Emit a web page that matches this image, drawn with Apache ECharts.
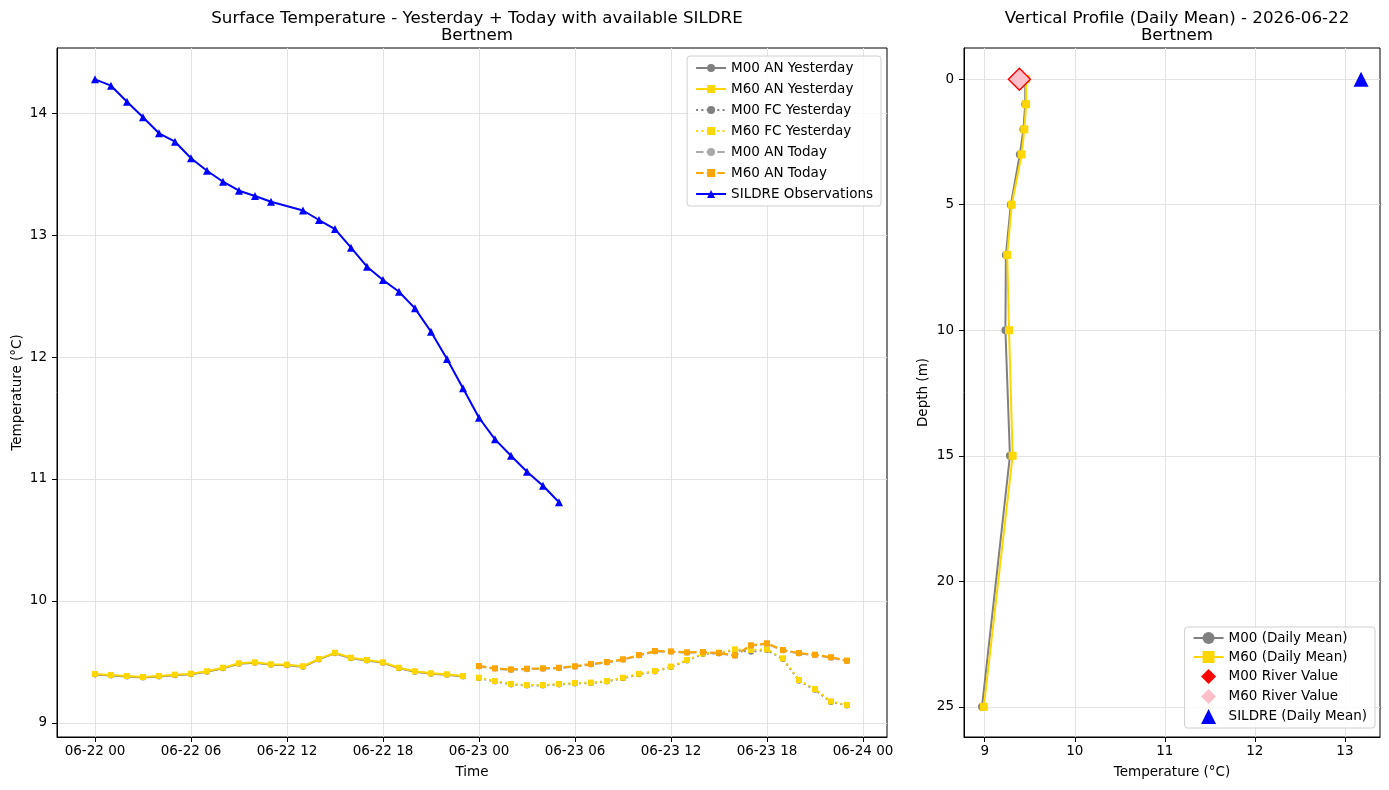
<!DOCTYPE html>
<html>
<head>
<meta charset="utf-8">
<script src="https://cdn.jsdelivr.net/npm/echarts@6/dist/echarts.min.js"></script>
<style>
  html, body { margin: 0; padding: 0; background: #fff; }
  #chart { width: 1389px; height: 790px; }
</style>
</head>
<body>
<div id="chart"></div>
<script>
// hours counted from 06-22 00
var timeTicks = [0, 6, 12, 18, 24, 30, 36, 42, 48];
var timeTickLabels = ['06-22 00', '06-22 06', '06-22 12', '06-22 18', '06-23 00', '06-23 06', '06-23 12', '06-23 18', '06-24 00'];

var yesterdayHours = [0, 1, 2, 3, 4, 5, 6, 7, 8, 9, 10, 11, 12, 13, 14, 15, 16, 17, 18, 19, 20, 21, 22, 23];
var todayHours = [24, 25, 26, 27, 28, 29, 30, 31, 32, 33, 34, 35, 36, 37, 38, 39, 40, 41, 42, 43, 44, 45, 46, 47];

var m00AnYesterday = [9.398, 9.390, 9.381, 9.373, 9.381, 9.392, 9.400, 9.420, 9.449, 9.485, 9.493, 9.477, 9.474, 9.461, 9.521, 9.572, 9.531, 9.512, 9.493, 9.449, 9.420, 9.403, 9.395, 9.381];
var m60AnYesterday = [9.402, 9.393, 9.385, 9.377, 9.385, 9.396, 9.404, 9.424, 9.453, 9.489, 9.497, 9.481, 9.478, 9.465, 9.525, 9.576, 9.535, 9.516, 9.497, 9.453, 9.424, 9.407, 9.399, 9.385];

var m00FcYesterday = [9.368, 9.340, 9.316, 9.307, 9.307, 9.316, 9.324, 9.327, 9.340, 9.367, 9.399, 9.422, 9.458, 9.512, 9.566, 9.572, 9.598, 9.584, 9.598, 9.524, 9.346, 9.272, 9.172, 9.144];
var m60FcYesterday = [9.371, 9.344, 9.320, 9.311, 9.311, 9.320, 9.328, 9.331, 9.344, 9.371, 9.403, 9.426, 9.462, 9.516, 9.570, 9.576, 9.604, 9.598, 9.604, 9.530, 9.352, 9.278, 9.177, 9.148];

var m00AnToday = [9.463, 9.444, 9.435, 9.441, 9.444, 9.449, 9.461, 9.480, 9.496, 9.518, 9.553, 9.586, 9.583, 9.575, 9.578, 9.570, 9.551, 9.633, 9.649, 9.594, 9.570, 9.556, 9.535, 9.507];
var m60AnToday = [9.467, 9.448, 9.439, 9.445, 9.448, 9.453, 9.465, 9.484, 9.500, 9.522, 9.557, 9.590, 9.587, 9.579, 9.582, 9.574, 9.555, 9.637, 9.653, 9.598, 9.574, 9.560, 9.539, 9.511];

var sildreHours = [0, 1, 2, 3, 4, 5, 6, 7, 8, 9, 10, 11, 13, 14, 15, 16, 17, 18, 19, 20, 21, 22, 23, 24, 25, 26, 27, 28, 29];
var sildreTemp = [14.276, 14.224, 14.093, 13.965, 13.834, 13.765, 13.629, 13.527, 13.437, 13.363, 13.320, 13.273, 13.201, 13.123, 13.049, 12.896, 12.740, 12.631, 12.535, 12.399, 12.207, 11.984, 11.743, 11.502, 11.325, 11.191, 11.060, 10.945, 10.809];

// vertical profile
var depths = [0, 1, 2, 3, 5, 7, 10, 15, 25];
var m00Profile = [9.45, 9.45, 9.43, 9.39, 9.29, 9.235, 9.23, 9.28, 8.97];
var m60Profile = [9.46, 9.46, 9.44, 9.41, 9.30, 9.25, 9.27, 9.31, 8.99];
var m00River = 9.385;
var m60River = 9.385;
var sildreMean = 13.18;

var tempTicks = [9, 10, 11, 12, 13, 14];
var depthTicks = [0, 5, 10, 15, 20, 25];
var profTempTicks = [9, 10, 11, 12, 13];

function zip(xs, ys) {
    return xs.map(function (x, i) { return [x, ys[i]]; });
}

var font = 'DejaVu Sans';
var labelStyle = { color: '#000', fontSize: 13.5, fontFamily: font };
var splitStyle = { show: true, lineStyle: { color: '#e3e3e3', width: 1 } };
var tickStyle = { show: true, length: 5, lineStyle: { color: '#000' } };
var axisLineStyle = { show: true, onZero: false, lineStyle: { color: '#000' } };

var diamondPath = 'path://M0,-1L1,0L0,1L-1,0Z';
var trianglePath = 'path://M0,-1L1,1L-1,1Z';

var chart = echarts.init(document.getElementById('chart'));

function lineSeries(name, data, color, symbol, dash, z) {
    return {
        name: name,
        type: 'line',
        xAxisIndex: 0,
        yAxisIndex: 0,
        data: data,
        symbol: symbol,
        symbolSize: symbol === 'triangle' ? 8 : 6,
        showAllSymbol: true,
        z: z,
        itemStyle: { color: color },
        lineStyle: { color: color, width: 2, type: dash }
    };
}

var option = {
    animation: false,
    backgroundColor: '#fff',
    textStyle: { fontFamily: font },
    title: [
        {
            text: 'Surface Temperature - Yesterday + Today with available SILDRE\nBertnem',
            left: 472,
            top: 5,
            textAlign: 'center',
            textStyle: { fontSize: 16.7, fontWeight: 'normal', color: '#000', fontFamily: font, lineHeight: 17 }
        },
        {
            text: 'Vertical Profile (Daily Mean) - 2026-06-22\nBertnem',
            left: 1172,
            top: 5,
            textAlign: 'center',
            textStyle: { fontSize: 16.7, fontWeight: 'normal', color: '#000', fontFamily: font, lineHeight: 17 }
        }
    ],
    legend: [
        {
            orient: 'vertical',
            right: 508,
            top: 56,
            itemWidth: 30,
            itemHeight: 10,
            itemGap: 7,
            padding: [5, 8],
            borderColor: '#d0d0d0',
            borderWidth: 1,
            borderRadius: 3,
            backgroundColor: 'rgba(255,255,255,0.8)',
            textStyle: labelStyle,
            lineStyle: { width: 2 },
            data: ['M00 AN Yesterday', 'M60 AN Yesterday', 'M00 FC Yesterday', 'M60 FC Yesterday', 'M00 AN Today', 'M60 AN Today', 'SILDRE Observations']
        },
        {
            orient: 'vertical',
            right: 14,
            bottom: 62,
            itemWidth: 30,
            itemHeight: 15,
            itemGap: 5,
            padding: [4, 8],
            borderColor: '#d0d0d0',
            borderWidth: 1,
            borderRadius: 3,
            backgroundColor: 'rgba(255,255,255,0.8)',
            textStyle: labelStyle,
            lineStyle: { width: 2 },
            data: ['M00 (Daily Mean)', 'M60 (Daily Mean)', 'M00 River Value', 'M60 River Value', 'SILDRE (Daily Mean)']
        }
    ],
    grid: [
        { left: 57, right: 502, top: 48, bottom: 53, outerBoundsMode: 'none', show: true, borderColor: '#000', borderWidth: 1 },
        { left: 964, right: 9, top: 48, bottom: 53, outerBoundsMode: 'none', show: true, borderColor: '#000', borderWidth: 1 }
    ],
    xAxis: [
        {
            type: 'value',
            gridIndex: 0,
            min: -2.375,
            max: 49.5,
            name: 'Time',
            nameLocation: 'middle',
            nameGap: 28,
            nameTextStyle: labelStyle,
            axisLine: axisLineStyle,
            axisTick: Object.assign({ customValues: timeTicks }, tickStyle),
            axisLabel: Object.assign({
                customValues: timeTicks,
                margin: 7,
                formatter: function (v) { return timeTickLabels[timeTicks.indexOf(v)]; }
            }, labelStyle),
            splitLine: splitStyle
        },
        {
            type: 'value',
            gridIndex: 1,
            min: 8.77,
            max: 13.39,
            name: 'Temperature (°C)',
            nameLocation: 'middle',
            nameGap: 28,
            nameTextStyle: labelStyle,
            axisLine: axisLineStyle,
            axisTick: Object.assign({ customValues: profTempTicks }, tickStyle),
            axisLabel: Object.assign({ customValues: profTempTicks, margin: 7 }, labelStyle),
            splitLine: splitStyle
        }
    ],
    yAxis: [
        {
            type: 'value',
            gridIndex: 0,
            min: 8.885,
            max: 14.533,
            name: 'Temperature (°C)',
            nameLocation: 'middle',
            nameGap: 33,
            nameMoveOverlap: false,
            nameTextStyle: labelStyle,
            axisLine: axisLineStyle,
            axisTick: Object.assign({ customValues: tempTicks }, tickStyle),
            axisLabel: Object.assign({ customValues: tempTicks, margin: 10 }, labelStyle),
            splitLine: splitStyle
        },
        {
            type: 'value',
            gridIndex: 1,
            inverse: true,
            min: -1.24,
            max: 26.2,
            name: 'Depth (m)',
            nameLocation: 'middle',
            nameGap: 34,
            nameTextStyle: labelStyle,
            axisLine: axisLineStyle,
            axisTick: Object.assign({ customValues: depthTicks }, tickStyle),
            axisLabel: Object.assign({ customValues: depthTicks, margin: 10 }, labelStyle),
            splitLine: splitStyle
        }
    ],
    series: [
        lineSeries('M00 AN Yesterday', zip(yesterdayHours, m00AnYesterday), '#808080', 'circle', 'solid', 2),
        lineSeries('M60 AN Yesterday', zip(yesterdayHours, m60AnYesterday), '#FFD700', 'rect', 'solid', 3),
        lineSeries('M00 FC Yesterday', zip(todayHours, m00FcYesterday), '#808080', 'circle', [2, 3.3], 2),
        lineSeries('M60 FC Yesterday', zip(todayHours, m60FcYesterday), '#FFD700', 'rect', [2, 3.3], 3),
        lineSeries('M00 AN Today', zip(todayHours, m00AnToday), '#A9A9A9', 'circle', [7.4, 3.2], 4),
        lineSeries('M60 AN Today', zip(todayHours, m60AnToday), '#FFA500', 'rect', [7.4, 3.2], 5),
        lineSeries('SILDRE Observations', zip(sildreHours, sildreTemp), '#0000FF', 'triangle', 'solid', 6),
        {
            name: 'M00 (Daily Mean)',
            type: 'line',
            xAxisIndex: 1,
            yAxisIndex: 1,
            data: zip(m00Profile, depths),
            symbol: 'circle',
            symbolSize: 8,
            itemStyle: { color: '#808080' },
            lineStyle: { color: '#808080', width: 2 },
            z: 2
        },
        {
            name: 'M60 (Daily Mean)',
            type: 'line',
            xAxisIndex: 1,
            yAxisIndex: 1,
            data: zip(m60Profile, depths),
            symbol: 'rect',
            symbolSize: 8,
            itemStyle: { color: '#FFD700' },
            lineStyle: { color: '#FFD700', width: 2 },
            z: 3
        },
        {
            name: 'M00 River Value',
            type: 'scatter',
            xAxisIndex: 1,
            yAxisIndex: 1,
            data: [[m00River, 0]],
            symbol: diamondPath,
            symbolSize: 24,
            itemStyle: { color: '#FF0000', opacity: 1 },
            z: 4
        },
        {
            name: 'M60 River Value',
            type: 'scatter',
            xAxisIndex: 1,
            yAxisIndex: 1,
            data: [[m60River, 0]],
            symbol: diamondPath,
            symbolSize: 20,
            itemStyle: { color: '#FFC0CB', opacity: 1 },
            z: 5
        },
        {
            name: 'SILDRE (Daily Mean)',
            type: 'scatter',
            xAxisIndex: 1,
            yAxisIndex: 1,
            data: [[sildreMean, 0]],
            symbol: trianglePath,
            symbolSize: 15,
            itemStyle: { color: '#0000FF', opacity: 1 },
            z: 5
        }
    ]
};

chart.setOption(option);
</script>
</body>
</html>
